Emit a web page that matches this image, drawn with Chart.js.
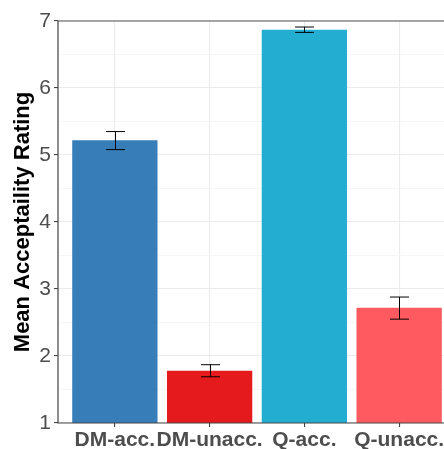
<!DOCTYPE html>
<html lang="en">
    <head>
        <meta charset="UTF-8" />
        <title>Mean Acceptability Rating</title>
        <script src="https://cdn.jsdelivr.net/npm/chart.js@4"></script>
        <style>
            html, body { margin: 0; padding: 0; overflow: hidden; background: #fff; }
        </style>
    </head>
    <body>
        <canvas id="myChart" width="470" height="449"></canvas>

        <script>
            const categories = ["DM-acc.", "DM-unacc.", "Q-acc.", "Q-unacc."];
            const means = [5.22, 1.78, 6.87, 2.72];
            const errLow = [5.08, 1.69, 6.83, 2.55];
            const errHigh = [5.35, 1.87, 6.91, 2.88];
            const barColors = ["#377EB8", "#E41A1C", "#23AED1", "#FF5A5F"];
            const yTicks = [1, 2, 3, 4, 5, 6, 7];

            const yAll = [];
            yTicks.forEach((t, i) => {
                yAll.push(t);
                if (i < yTicks.length - 1) yAll.push(t + 0.5);
            });
            const isMajor = (v) => yTicks.includes(v);

            // axis lines and error bars, drawn over the bars like ggplot does
            const overlayPlugin = {
                id: "overlay",
                afterDatasetsDraw(chart) {
                    const ctx = chart.ctx;
                    const area = chart.chartArea;
                    const x = chart.scales.x;
                    const y = chart.scales.y;
                    ctx.save();

                    // error bars
                    ctx.strokeStyle = "#000";
                    ctx.lineWidth = 1;
                    const capHalf = (x.getPixelForValue(1.1) - x.getPixelForValue(1));
                    means.forEach((m, i) => {
                        const cx = Math.round(x.getPixelForValue(i + 1)) + 0.5;
                        const top = y.getPixelForValue(errHigh[i]);
                        const bot = y.getPixelForValue(errLow[i]);
                        ctx.beginPath();
                        ctx.moveTo(cx, top);
                        ctx.lineTo(cx, bot);
                        ctx.moveTo(cx - capHalf, top);
                        ctx.lineTo(cx + capHalf, top);
                        ctx.moveTo(cx - capHalf, bot);
                        ctx.lineTo(cx + capHalf, bot);
                        ctx.stroke();
                    });

                    // panel top border
                    ctx.strokeStyle = "#8a8a8a";
                    ctx.lineWidth = 1.5;
                    ctx.beginPath();
                    ctx.moveTo(area.left, area.top);
                    ctx.lineTo(area.right, area.top);
                    ctx.stroke();

                    // left and bottom axis lines
                    ctx.strokeStyle = "#444";
                    ctx.lineWidth = 1.2;
                    ctx.beginPath();
                    ctx.moveTo(area.left, area.top);
                    ctx.lineTo(area.left, area.bottom);
                    ctx.lineTo(area.right, area.bottom);
                    ctx.stroke();
                    ctx.restore();
                },
            };

            const config = {
                type: "bar",
                data: {
                    datasets: [
                        {
                            data: means.map((v, i) => ({ x: i + 1, y: v })),
                            backgroundColor: barColors,
                            borderWidth: 0,
                            barPercentage: 0.9,
                            categoryPercentage: 1.0,
                        },
                    ],
                },
                options: {
                    responsive: false,
                    animation: false,
                    layout: {
                        padding: { top: 21, right: 14, bottom: 0, left: 0 },
                    },
                    plugins: {
                        legend: { display: false },
                        tooltip: { enabled: false },
                    },
                    scales: {
                        x: {
                            type: "linear",
                            min: 0.4,
                            max: 4.6,
                            offset: false,
                            afterBuildTicks(scale) {
                                scale.ticks = categories.map((c, i) => ({ value: i + 1 }));
                            },
                            afterFit(scale) {
                                scale.height = 26;
                            },
                            ticks: {
                                autoSkip: false,
                                maxRotation: 0,
                                padding: 1,
                                color: "#4D4D4D",
                                font: {
                                    family: "'Liberation Sans', Arial, sans-serif",
                                    size: 21,
                                    weight: "bold",
                                },
                                callback: (v) => categories[v - 1] || "",
                            },
                            grid: {
                                offset: false,
                                color: "#EBEBEB",
                                lineWidth: 1.1,
                                tickColor: "#444",
                                tickLength: 4,
                            },
                            border: { display: false },
                        },
                        y: {
                            min: 1,
                            max: 7,
                            afterBuildTicks(scale) {
                                scale.ticks = yAll.map((v) => ({ value: v }));
                            },
                            afterFit(scale) {
                                scale.width = 58;
                            },
                            title: {
                                display: true,
                                text: "Mean Acceptaility Rating",
                                color: "#000",
                                font: {
                                    family: "'Liberation Sans', Arial, sans-serif",
                                    size: 22,
                                    weight: "bold",
                                    lineHeight: 1.2,
                                },
                                padding: { top: 10, bottom: 0 },
                            },
                            ticks: {
                                autoSkip: false,
                                padding: 3,
                                color: "#4D4D4D",
                                font: {
                                    family: "'Liberation Sans', Arial, sans-serif",
                                    size: 21,
                                },
                                callback: (v) => (isMajor(v) ? String(v) : ""),
                            },
                            grid: {
                                color: (c) => (isMajor(c.tick.value) ? "#EBEBEB" : "#F4F4F4"),
                                lineWidth: (c) => (isMajor(c.tick.value) ? 1.1 : 0.8),
                                tickColor: (c) => (isMajor(c.tick.value) ? "#444" : "rgba(0,0,0,0)"),
                                tickLength: 4,
                            },
                            border: { display: false },
                        },
                    },
                },
                plugins: [overlayPlugin],
            };

            const myChart = new Chart(document.getElementById("myChart"), config);
        </script>
    </body>
</html>
